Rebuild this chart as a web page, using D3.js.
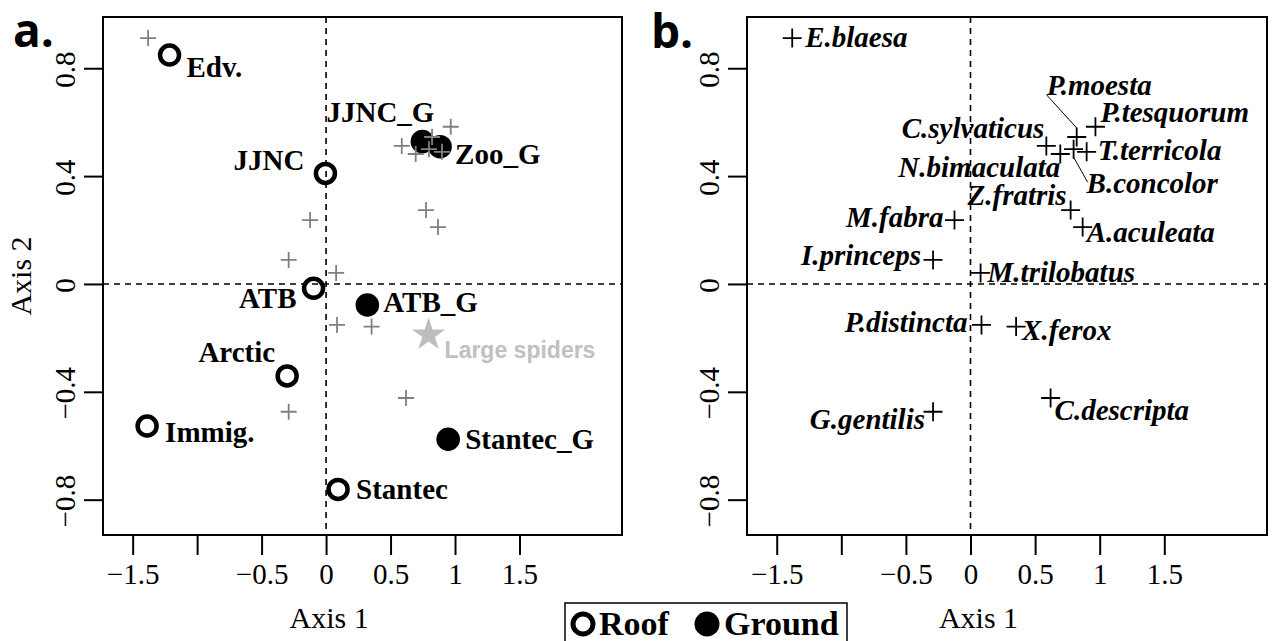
<!DOCTYPE html>
<html>
<head>
<meta charset="utf-8">
<script src="https://cdn.jsdelivr.net/npm/d3@7"></script>
<style>
  body { margin: 0; background: #fff; }
  svg { display: block; }
  .axis .tick text { font-family: "Liberation Serif", serif; font-size: 29px; fill: #000; }
  .axis .tick line { stroke: #000; stroke-width: 2px; }
  .site-label { font-family: "Liberation Serif", serif; font-size: 29px; font-weight: bold; }
  .sp-label { font-family: "Liberation Serif", serif; font-size: 29px; font-weight: bold; font-style: italic; }
</style>
</head>
<body>
<div id="chart"></div>
<script>
// ---- data ----
var species = ["E.blaesa", "P.moesta", "P.tesquorum", "C.sylvaticus", "T.terricola",
  "N.bimaculata", "B.concolor", "Z.fratris", "A.aculeata", "M.fabra", "I.princeps",
  "M.trilobatus", "P.distincta", "X.ferox", "C.descripta", "G.gentilis"];
var speciesAxis1 = [-1.38, 0.822, 0.967, 0.587, 0.899, 0.695, 0.798, 0.775, 0.868,
  -0.124, -0.29, 0.078, 0.085, 0.353, 0.62, -0.29];
var speciesAxis2 = [0.912, 0.545, 0.583, 0.512, 0.49, 0.482, 0.50, 0.274, 0.211,
  0.237, 0.089, 0.041, -0.152, -0.158, -0.423, -0.474];

var sites = ["Edv.", "JJNC", "JJNC_G", "Zoo_G", "ATB", "ATB_G", "Arctic", "Immig.", "Stantec_G", "Stantec"];
var siteAxis1 = [-1.214, -0.005, 0.747, 0.884, -0.097, 0.32, -0.302, -1.388, 0.947, 0.093];
var siteAxis2 = [0.849, 0.41, 0.528, 0.509, -0.016, -0.078, -0.341, -0.527, -0.576, -0.762];
var siteType = ["Roof", "Roof", "Ground", "Ground", "Roof", "Ground", "Roof", "Roof", "Ground", "Roof"];

var largeSpiders = {label: "Large spiders", axis1: 0.795, axis2: -0.189};

var xTicks = [-1.5, -1, -0.5, 0, 0.5, 1, 1.5];
var yTicks = [-0.8, -0.4, 0, 0.4, 0.8];
var legendKeys = ["Roof", "Ground"];

// ---- label placement (pixels from the point: anchor, dx, dy) ----
var siteLabelPos = [
  ["start", 17, 22], ["end", -21, -3], ["end", 12, -20], ["start", 15, 17],
  ["end", -17, 20], ["start", 16, 7], ["end", -12, -14], ["start", 18, 16],
  ["start", 17, 10], ["start", 18, 10]
];
var speciesLabelPos = [
  ["start", 13, 9], ["start", -30, -42], ["start", 5, -5], ["end", -2, -8],
  ["start", 11, 8], ["end", 0, 23], ["start", 13, 44], ["end", -4, -5],
  ["start", 4, 15], ["end", -11, 7], ["end", -12, 5], ["start", 7, 9],
  ["end", -14, 7], ["start", 6, 13], ["start", 4, 22], ["end", -8, 17]
];
// leader lines for displaced labels: [species index, x1, y1, x2, y2] offsets
var leaders = [[1, -30, -42, 0, -9], [6, 0, 8, 14, 33]];

// ---- layout ----
var W = 1274, H = 641;
var plotTop = 17, plotBottom = 535;
var xDomain = [-1.73, 2.295], yDomain = [-0.931, 0.99];

var svg = d3.select("#chart").append("svg").attr("width", W).attr("height", H);

var y = d3.scaleLinear().domain(yDomain).range([plotBottom, plotTop]);
var xA = d3.scaleLinear().domain(xDomain).range([103, 622]);
var xB = d3.scaleLinear().domain(xDomain).range([747, 1267]);

var fmt = function(d) { return d === -1 ? "" : d3.format("~g")(d); };

function drawFrame(g, x) {
  // axes
  g.append("g").attr("class", "axis")
    .attr("transform", "translate(0," + plotBottom + ")")
    .call(d3.axisBottom(x).tickValues(xTicks).tickSize(20).tickPadding(8).tickFormat(fmt))
    .call(function(a) { a.select(".domain").remove(); });

  var ya = g.append("g").attr("class", "axis")
    .attr("transform", "translate(" + x.range()[0] + ",0)")
    .call(d3.axisLeft(y).tickValues(yTicks).tickSize(19).tickFormat(d3.format("~g")))
    .call(function(a) { a.select(".domain").remove(); });
  ya.selectAll(".tick text")
    .attr("x", null).attr("dy", null)
    .attr("text-anchor", "middle")
    .attr("transform", "translate(-28,1) rotate(-90)");

  // zero lines
  g.append("line")
    .attr("x1", x(0)).attr("x2", x(0)).attr("y1", plotTop).attr("y2", plotBottom)
    .attr("stroke", "#000").attr("stroke-width", 1.6).attr("stroke-dasharray", "6,5");
  g.append("line")
    .attr("x1", x.range()[0]).attr("x2", x.range()[1]).attr("y1", y(0)).attr("y2", y(0))
    .attr("stroke", "#000").attr("stroke-width", 1.6).attr("stroke-dasharray", "6,5");

  // box
  g.append("rect")
    .attr("x", x.range()[0]).attr("y", plotTop)
    .attr("width", x.range()[1] - x.range()[0]).attr("height", plotBottom - plotTop)
    .attr("fill", "none").attr("stroke", "#000").attr("stroke-width", 2);
}

function cross(size) {
  return "M" + (-size) + ",0H" + size + "M0," + (-size) + "V" + size;
}

// ---------- panel a ----------
var ga = svg.append("g").attr("class", "panel-a");
drawFrame(ga, xA);

var siteIdx = d3.range(sites.length);
ga.selectAll(".site")
  .data(siteIdx)
  .enter().append("circle")
    .attr("class", "site")
    .attr("cx", function(i) { return xA(siteAxis1[i]); })
    .attr("cy", function(i) { return y(siteAxis2[i]); })
    .attr("r", function(i) { return siteType[i] === "Roof" ? 9.5 : 11.8; })
    .attr("fill", function(i) { return siteType[i] === "Roof" ? "none" : "#000"; })
    .attr("stroke", "#000")
    .attr("stroke-width", function(i) { return siteType[i] === "Roof" ? 4.5 : 0; });

var spIdx = d3.range(species.length);
ga.selectAll(".spcross")
  .data(spIdx)
  .enter().append("path")
    .attr("class", "spcross")
    .attr("transform", function(i) { return "translate(" + xA(speciesAxis1[i]) + "," + y(speciesAxis2[i]) + ")"; })
    .attr("d", cross(8))
    .attr("stroke", "#808080").attr("stroke-width", 1.8).attr("fill", "none");

ga.selectAll(".site-label")
  .data(siteIdx)
  .enter().append("text")
    .attr("class", "site-label")
    .attr("x", function(i) { return xA(siteAxis1[i]) + siteLabelPos[i][1]; })
    .attr("y", function(i) { return y(siteAxis2[i]) + siteLabelPos[i][2]; })
    .attr("text-anchor", function(i) { return siteLabelPos[i][0]; })
    .text(function(i) { return sites[i]; });

ga.append("path")
  .attr("transform", "translate(" + xA(largeSpiders.axis1) + "," + y(largeSpiders.axis2) + ")")
  .attr("d", d3.symbol(d3.symbolStar, 340)())
  .attr("fill", "#bdbdbd");
ga.append("text")
  .attr("x", xA(largeSpiders.axis1) + 16)
  .attr("y", y(largeSpiders.axis2) + 23)
  .attr("font-family", "'Liberation Sans', Arial, sans-serif")
  .attr("font-weight", "bold").attr("font-size", 23)
  .attr("fill", "#c0c0c0")
  .text(largeSpiders.label);

ga.append("text")
  .attr("x", 13).attr("y", 47)
  .attr("font-family", "'Open Sans', sans-serif").attr("font-weight", "bold").attr("font-size", 46)
  .text("a.");

ga.append("text")
  .attr("transform", "translate(31," + ((plotTop + plotBottom) / 2) + ") rotate(-90)")
  .attr("text-anchor", "middle")
  .attr("font-family", "'Liberation Serif', serif").attr("font-size", 30)
  .text("Axis 2");
ga.append("text")
  .attr("x", xA(0) + 3).attr("y", 628)
  .attr("text-anchor", "middle")
  .attr("font-family", "'Liberation Serif', serif").attr("font-size", 30)
  .text("Axis 1");

// ---------- panel b ----------
var gb = svg.append("g").attr("class", "panel-b");
drawFrame(gb, xB);

gb.selectAll(".leader")
  .data(leaders)
  .enter().append("line")
    .attr("x1", function(d) { return xB(speciesAxis1[d[0]]) + d[1]; })
    .attr("y1", function(d) { return y(speciesAxis2[d[0]]) + d[2]; })
    .attr("x2", function(d) { return xB(speciesAxis1[d[0]]) + d[3]; })
    .attr("y2", function(d) { return y(speciesAxis2[d[0]]) + d[4]; })
    .attr("stroke", "#000").attr("stroke-width", 1);

gb.selectAll(".spcross")
  .data(spIdx)
  .enter().append("path")
    .attr("class", "spcross")
    .attr("transform", function(i) { return "translate(" + xB(speciesAxis1[i]) + "," + y(speciesAxis2[i]) + ")"; })
    .attr("d", cross(9.5))
    .attr("stroke", "#000").attr("stroke-width", 1.8).attr("fill", "none");

gb.selectAll(".sp-label")
  .data(spIdx)
  .enter().append("text")
    .attr("class", "sp-label")
    .attr("x", function(i) { return xB(speciesAxis1[i]) + speciesLabelPos[i][1]; })
    .attr("y", function(i) { return y(speciesAxis2[i]) + speciesLabelPos[i][2]; })
    .attr("text-anchor", function(i) { return speciesLabelPos[i][0]; })
    .text(function(i) { return species[i]; });

gb.append("text")
  .attr("x", 651).attr("y", 48)
  .attr("font-family", "'Open Sans', sans-serif").attr("font-weight", "bold").attr("font-size", 46)
  .text("b.");
gb.append("text")
  .attr("x", xB(0) + 8).attr("y", 628)
  .attr("text-anchor", "middle")
  .attr("font-family", "'Liberation Serif', serif").attr("font-size", 30)
  .text("Axis 1");

// ---------- legend ----------
var lg = svg.append("g").attr("class", "legend");
lg.append("rect")
  .attr("x", 565).attr("y", 603).attr("width", 282).attr("height", 50)
  .attr("fill", "#fff").attr("stroke", "#000").attr("stroke-width", 1.5);
var item = lg.selectAll(".item")
  .data(legendKeys)
  .enter().append("g")
    .attr("class", "item")
    .attr("transform", function(d, i) { return "translate(" + (i === 0 ? 583 : 707) + ",624)"; });
item.append("circle")
  .attr("r", function(d) { return d === "Roof" ? 10 : 12.5; })
  .attr("fill", function(d) { return d === "Roof" ? "none" : "#000"; })
  .attr("stroke", "#000")
  .attr("stroke-width", function(d) { return d === "Roof" ? 5 : 0; });
item.append("text")
  .attr("x", function(d) { return d === "Roof" ? 16 : 17; })
  .attr("y", 11)
  .attr("font-family", "'Liberation Serif', serif").attr("font-weight", "bold").attr("font-size", 34)
  .text(function(d) { return d; });
</script>
</body>
</html>
